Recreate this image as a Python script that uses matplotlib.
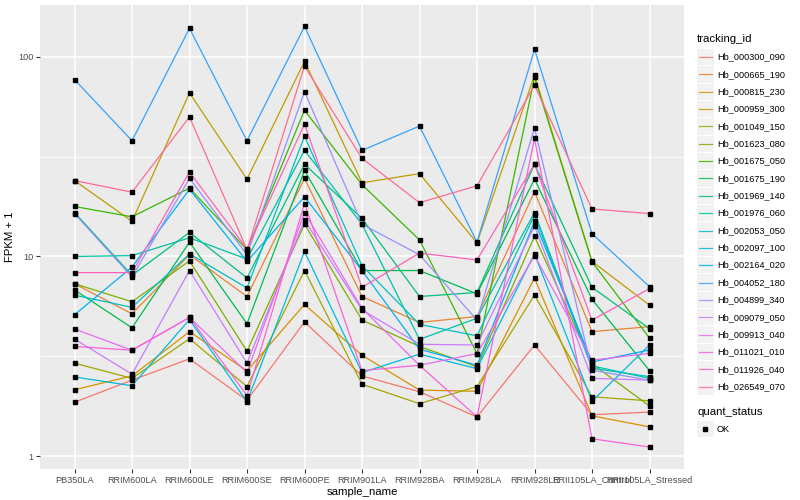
import numpy as np
import matplotlib
matplotlib.use("Agg")
import matplotlib.pyplot as plt
from matplotlib.patches import Rectangle

plt.rcParams['font.family'] = ['Liberation Sans', 'DejaVu Sans']

samples = ["PB350LA", "RRIM600LA", "RRIM600LE", "RRIM600SE", "RRIM600PE",
           "RRIM901LA", "RRIM928BA", "RRIM928LA", "RRIM928LE",
           "RRII105LA_Control", "RRII105LA_Stressed"]

tracking_ids = ["Hb_000300_090", "Hb_000665_190", "Hb_000815_230", "Hb_000959_300",
                "Hb_001049_150", "Hb_001623_080", "Hb_001675_050", "Hb_001675_190",
                "Hb_001969_140", "Hb_001976_060", "Hb_002053_050", "Hb_002097_100",
                "Hb_002164_020", "Hb_004052_180", "Hb_004899_340", "Hb_009079_050",
                "Hb_009913_040", "Hb_011021_010", "Hb_011926_040", "Hb_026549_070"]

# FPKM + 1, one row per tracking_id, columns follow samples
fpkm = [
    [1.86, 2.40, 3.07, 1.90, 4.70, 2.52, 2.10, 1.57, 3.60, 1.61, 1.66],
    [7.30, 5.16, 10.2, 6.30, 24.6, 6.30, 4.67, 5.00, 21.1, 4.20, 4.45],
    [2.15, 2.52, 4.20, 2.67, 5.75, 3.20, 2.14, 2.11, 7.80, 1.59, 1.40],
    [24.0, 15.0, 66.0, 24.4, 95.0, 23.4, 26.0, 11.7, 81.0, 9.45, 5.70],
    [2.92, 2.45, 3.87, 2.23, 8.50, 2.29, 1.83, 2.23, 6.40, 1.98, 1.89],
    [7.30, 5.93, 9.50, 3.35, 14.5, 4.80, 3.54, 2.80, 12.6, 2.90, 1.78],
    [17.8, 15.8, 22.0, 10.8, 54.0, 22.9, 12.1, 3.26, 79.0, 9.40, 3.90],
    [6.80, 4.39, 11.8, 4.60, 27.0, 8.50, 8.50, 6.50, 24.4, 6.10, 2.68],
    [16.6, 8.05, 13.2, 7.80, 29.0, 15.5, 6.30, 6.60, 29.0, 7.00, 4.35],
    [10.0, 10.1, 12.4, 9.70, 34.0, 14.5, 3.84, 4.90, 16.6, 2.83, 2.45],
    [6.40, 5.56, 10.3, 6.95, 40.0, 9.00, 4.57, 4.00, 16.1, 2.75, 2.50],
    [2.49, 2.25, 4.83, 1.87, 10.6, 2.62, 3.24, 2.74, 10.3, 1.88, 3.60],
    [5.10, 8.85, 21.7, 9.45, 19.9, 8.50, 3.43, 2.85, 15.0, 2.96, 3.40],
    [77.0, 38.0, 139., 38.0, 142., 34.0, 45.0, 11.8, 109., 13.0, 7.06],
    [16.4, 7.90, 24.6, 10.2, 67.0, 14.5, 10.2, 4.80, 44.0, 2.69, 2.40],
    [3.86, 2.57, 8.50, 2.92, 15.2, 5.40, 3.63, 3.60, 14.2, 2.45, 2.40],
    [4.33, 3.39, 4.95, 2.62, 16.6, 5.50, 2.85, 3.26, 10.1, 3.02, 3.27],
    [3.54, 3.39, 4.95, 2.01, 18.4, 2.68, 2.85, 1.57, 39.0, 1.22, 1.11],
    [8.30, 8.30, 26.5, 10.9, 46.0, 7.00, 10.4, 9.60, 29.0, 4.80, 6.90],
    [24.0, 21.0, 50.0, 10.8, 90.0, 31.0, 18.6, 22.6, 72.0, 17.3, 16.4],
]

colors = ["#F8766D", "#EA8331", "#D89000", "#C09B00", "#A3A500", "#7CAE00",
          "#39B600", "#00BB4E", "#00BF7D", "#00C1A3", "#00BFC4", "#00BAE0",
          "#00B0F6", "#35A2FF", "#9590FF", "#C77CFF", "#E76BF3", "#FA62DB",
          "#FF62BC", "#FF6C91"]

fig = plt.figure(figsize=(8, 5), dpi=100)
ax = fig.add_axes([40 / 800, 1 - 469 / 500, 644 / 800, 464 / 500])
ax.set_facecolor("#EBEBEB")

x = np.arange(len(samples))
for vals, c in zip(fpkm, colors):
    ax.plot(x, vals, color=c, lw=0.9, zorder=3)
for vals in fpkm:
    ax.plot(x, vals, ls="none", marker="s", ms=2.2, color="black", zorder=4)

ax.set_yscale("log")
ax.set_ylim(10 ** -0.065, 10 ** 2.26)
ax.set_xlim(-0.6, len(samples) - 0.4)
ax.set_yticks([1, 10, 100])
ax.set_yticklabels(["1", "10", "100"])
ax.set_yticks([10 ** 0.5, 10 ** 1.5], minor=True)
ax.yaxis.set_minor_formatter(plt.NullFormatter())
ax.set_xticks(x)
ax.set_xticklabels(samples)

ax.grid(True, which="major", color="white", lw=1.1)
ax.grid(True, which="minor", axis="y", color="white", lw=0.55)
ax.set_axisbelow(True)
for s in ax.spines.values():
    s.set_visible(False)
ax.tick_params(which="major", length=2.8, width=0.8, color="#333333",
               labelsize=6.6, labelcolor="#4D4D4D", pad=2)
ax.tick_params(which="minor", length=0)
ax.set_xlabel("sample_name", fontsize=8.2, labelpad=2)
ax.set_ylabel("FPKM + 1", fontsize=8.2, labelpad=2)

# legend drawn in pixel coordinates
lg = fig.add_axes([0, 0, 1, 1])
lg.set_xlim(0, 800)
lg.set_ylim(500, 0)
lg.axis("off")
lg.text(697, 39, "tracking_id", fontsize=8.2, va="center", ha="left")
for i, (name, c) in enumerate(zip(tracking_ids, colors)):
    yc = 57 + i * 17.35
    lg.add_patch(Rectangle((697, yc - 8.2), 16.5, 16.4, color="#F2F2F2", lw=0))
    lg.plot([698.5, 711.5], [yc, yc], color=c, lw=0.9, alpha=0.85)
    lg.text(717, yc, name, fontsize=6.6, va="center", ha="left")

lg.text(697, 412, "quant_status", fontsize=8.2, va="center", ha="left")
lg.add_patch(Rectangle((697, 429 - 8.2), 16.5, 16.4, color="#F2F2F2", lw=0))
lg.plot([705], [429], marker="s", ms=2.2, color="black")
lg.text(717, 429, "OK", fontsize=6.6, va="center", ha="left")

fig.savefig("out.png", dpi=100)
